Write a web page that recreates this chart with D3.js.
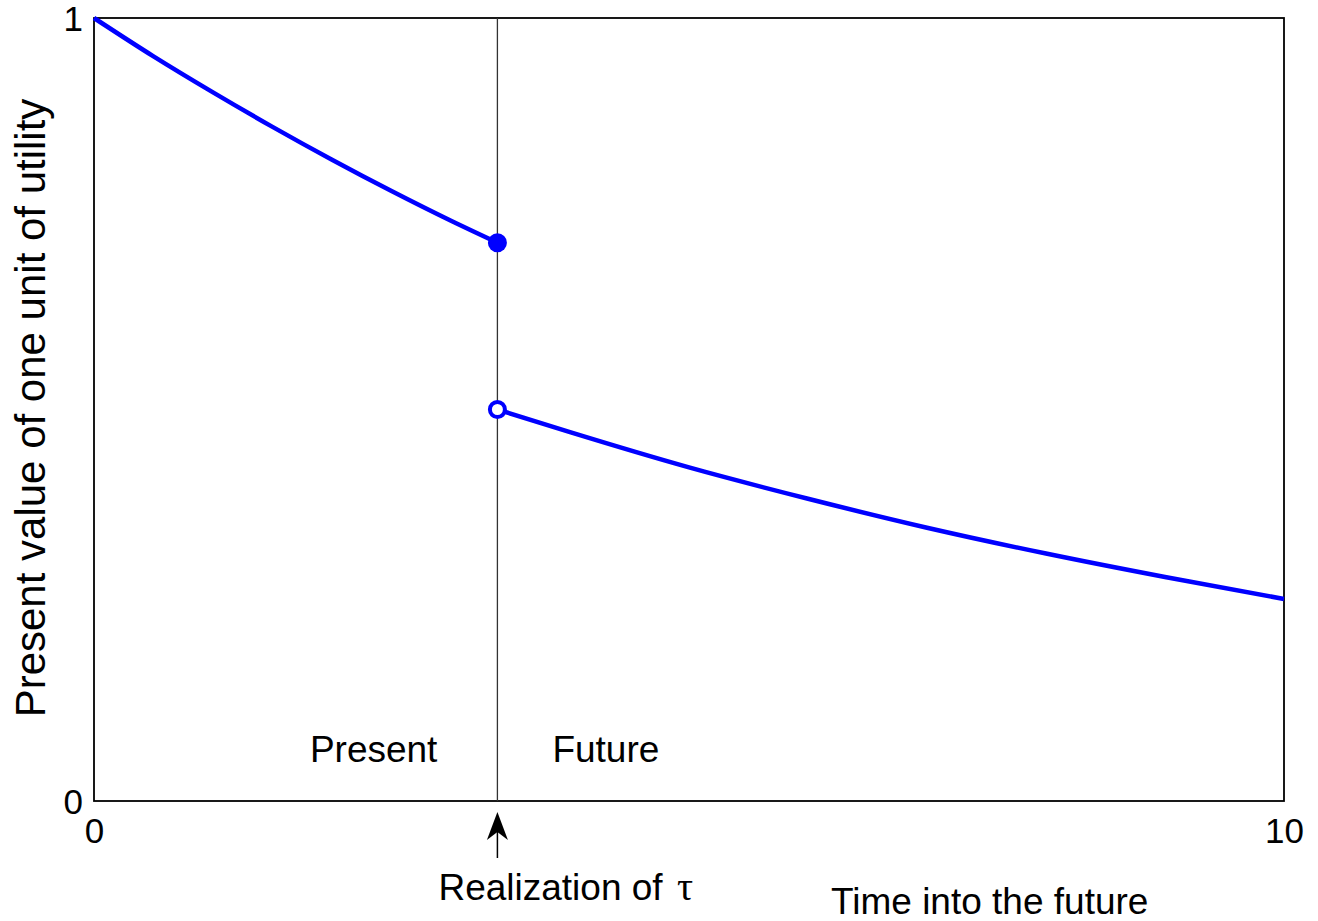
<!DOCTYPE html>
<html>
<head>
<meta charset="utf-8">
<script src="https://cdn.jsdelivr.net/npm/d3@7"></script>
<style>
  html, body { margin: 0; padding: 0; background: #fff; }
  text { font-family: "Liberation Sans", Arial, sans-serif; fill: #000; }
</style>
</head>
<body>
<svg id="chart" width="1318" height="921"></svg>
<script>
// ---- data ----
const tau = 3.39;
const xTicks = [0, 10];
const yTicks = [0, 1];
const beforeT = [0, 0.5, 1, 1.5, 2, 2.5, 3, 3.39];
const beforeV = [1.0, 0.951, 0.905, 0.861, 0.819, 0.779, 0.741, 0.713];
const afterT  = [3.39, 4, 5, 6, 7, 8, 9, 10];
const afterV  = [0.500, 0.471, 0.426, 0.386, 0.349, 0.316, 0.286, 0.258];
const regionLabels = ["Present", "Future"];
const xLabel = "Time into the future";
const yLabel = "Present value of one unit of utility";
const tauLabel = "Realization of ";
const tauSymbol = "\u03C4";

// ---- layout ----
const margin = {left: 94, top: 18, right: 34, bottom: 120};
const W = 1318, H = 921;
const iw = W - margin.left - margin.right;   // 1190
const ih = H - margin.top - margin.bottom;   // 783

const svg = d3.select("#chart");
const g = svg.append("g").attr("transform", `translate(${margin.left},${margin.top})`);

const x = d3.scaleLinear().domain([0, 10]).range([0, iw]);
const y = d3.scaleLinear().domain([0, 1]).range([ih, 0]);

// frame
g.append("rect").attr("x", 0).attr("y", 0).attr("width", iw).attr("height", ih)
  .attr("fill", "none").attr("stroke", "#000").attr("stroke-width", 1.8);

// axes (labels only)
const xAxis = g.append("g").attr("transform", `translate(0,${ih})`)
  .call(d3.axisBottom(x).tickValues(xTicks).tickSize(0).tickPadding(17).tickFormat(d3.format("d")));
xAxis.select(".domain").remove();
xAxis.selectAll("text").style("font-size", "35px").attr("dy", "0.71em")
  .attr("font-family", null);

const yAxis = g.append("g")
  .call(d3.axisLeft(y).tickValues(yTicks).tickSize(0).tickPadding(11).tickFormat(d3.format("d")));
yAxis.select(".domain").remove();
yAxis.selectAll("text").style("font-size", "35px").attr("dy", "0.36em")
  .attr("font-family", null);

// tau vertical line
g.append("line").attr("x1", x(tau)).attr("x2", x(tau)).attr("y1", 0).attr("y2", ih)
  .attr("stroke", "#333").attr("stroke-width", 1.3);

// curves
const line = d3.line().x(d => x(d[0])).y(d => y(d[1])).curve(d3.curveMonotoneX);
const before = beforeT.map((t, i) => [t, beforeV[i]]);
const after = afterT.map((t, i) => [t, afterV[i]]);
g.append("path").datum(before).attr("d", line)
  .attr("fill", "none").attr("stroke", "#0000ff").attr("stroke-width", 4.5);
g.append("path").datum(after).attr("d", line)
  .attr("fill", "none").attr("stroke", "#0000ff").attr("stroke-width", 4.5);

// end markers
g.append("circle").attr("cx", x(tau)).attr("cy", y(beforeV[beforeV.length - 1])).attr("r", 9.5)
  .attr("fill", "#0000ff");
g.append("circle").attr("cx", x(tau)).attr("cy", y(afterV[0])).attr("r", 7.5)
  .attr("fill", "#fff").attr("stroke", "#0000ff").attr("stroke-width", 4);

// region labels
g.append("text").attr("x", x(tau) - 60).attr("y", y(0) - 39).attr("text-anchor", "end")
  .style("font-size", "37px").text(regionLabels[0]);
g.append("text").attr("x", x(tau) + 55).attr("y", y(0) - 39).attr("text-anchor", "start")
  .style("font-size", "37px").text(regionLabels[1]);

// arrow pointing at tau
const ax = x(tau), tipY = ih + 11;
g.append("line").attr("x1", ax).attr("x2", ax).attr("y1", ih + 57).attr("y2", tipY + 16)
  .attr("stroke", "#000").attr("stroke-width", 1.5);
g.append("path")
  .attr("d", `M${ax},${tipY} L${ax + 10.5},${tipY + 28} L${ax},${tipY + 20} L${ax - 10.5},${tipY + 28} Z`)
  .attr("fill", "#000");

const tl = g.append("text").attr("x", ax - 59).attr("y", ih + 99).attr("text-anchor", "start")
  .style("font-size", "37px");
tl.append("tspan").text(tauLabel);
tl.append("tspan").attr("dx", 4).style("font-family", "'Liberation Serif', 'DejaVu Serif', serif")
  .style("font-size", "40px").text(tauSymbol);

// axis titles
g.append("text").attr("x", 737).attr("y", ih + 113).attr("text-anchor", "start")
  .style("font-size", "37px").text(xLabel);

svg.append("text").attr("transform", `translate(45, 408) rotate(-90)`)
  .attr("text-anchor", "middle").style("font-size", "42px").text(yLabel);
</script>
</body>
</html>
